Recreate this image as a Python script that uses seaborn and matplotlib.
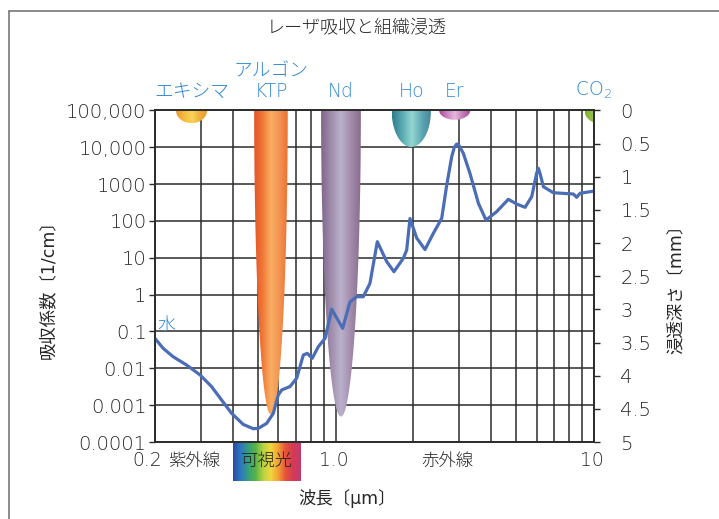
import matplotlib
matplotlib.use("Agg")
import numpy as np
import pandas as pd
import matplotlib.pyplot as plt
import seaborn as sns
from matplotlib.colors import LinearSegmentedColormap
from matplotlib.lines import Line2D
from matplotlib.patches import Polygon
from matplotlib.ticker import FixedLocator, NullLocator, FixedFormatter
from matplotlib.transforms import blended_transform_factory

# Water absorption spectrum (wavelength in um, absorption coefficient in 1/cm)
wavelength_um = [0.200, 0.215, 0.235, 0.265, 0.299, 0.331, 0.362, 0.396, 0.439, 0.480,
                 0.502, 0.541, 0.574, 0.600, 0.619, 0.666, 0.707, 0.750, 0.777, 0.812,
                 0.857, 0.910, 0.966, 1.065, 1.137, 1.207, 1.280, 1.358, 1.450, 1.577,
                 1.682, 1.828, 1.884, 1.940, 2.060, 2.218, 2.388, 2.574, 2.692, 2.814,
                 2.880, 2.942, 3.010, 3.120, 3.310, 3.570, 3.820, 4.200, 4.660, 5.020,
                 5.410, 5.740, 6.000, 6.090, 6.200, 6.370, 6.960, 8.320, 8.570, 8.830,
                 10.0]
absorption_per_cm = [0.065, 0.035, 0.0207, 0.0123, 0.0066, 0.0032, 0.00138, 0.0006, 0.0003, 0.00023,
                     0.000235, 0.00032, 0.0006, 0.0019, 0.0026, 0.0032, 0.0054, 0.023, 0.0255, 0.0187,
                     0.0386, 0.065, 0.40, 0.122, 0.64, 0.88, 0.88, 2.03, 27.4, 7.9,
                     4.2, 9.7, 16.3, 117, 34.5, 16.8, 46, 118, 950, 5570,
                     10000, 12300, 11000, 6900, 1970, 302, 106, 179, 388, 289,
                     235, 457, 2000, 2700, 1800, 853, 586, 540, 440, 565,
                     650]

absorption_ticks = [1e-4, 1e-3, 1e-2, 1e-1, 1, 10, 100, 1000, 1e4, 1e5]
absorption_tick_labels = ["0.0001", "0.001", "0.01", "0.1", "1", "10", "100", "1000", "10,000", "100,000"]
depth_ticks = [0, 0.5, 1, 1.5, 2, 2.5, 3, 3.5, 4, 4.5, 5]
depth_tick_labels = ["0", "0.5", "1", "1.5", "2", "2.5", "3", "3.5", "4", "4.5", "5"]
wavelength_major = [0.2, 1.0, 10]
wavelength_major_labels = ["0.2", "1.0", "10"]
wavelength_minor = [0.3, 0.4, 0.5, 0.6, 0.7, 0.8, 0.9, 2, 3, 4, 5, 6, 7, 8, 9]

# Lasers: centre wavelength, half width (decades of wavelength), penetration depth (mm)
laser_names = ["エキシマ", "アルゴン\nKTP", "Nd", "Ho", "Er", "CO$_2$"]
laser_center_um = [0.277, 0.562, 1.049, 1.963, 2.89, 10.6]
laser_halfwidth_dec = [0.060, 0.065, 0.077, 0.076, 0.060, 0.062]
laser_depth_mm = [0.19, 4.59, 4.62, 0.55, 0.14, 0.20]

# Spectral regions along the wavelength axis
region_names = ["紫外線", "可視光", "赤外線"]
region_edges_um = [0.2, 0.4, 0.73, 10]

# ---- styles ----
TEXT = "#262626"
LABEL_BLUE = "#3389d2"
GRID = "#2b2b2b"
CURVE = "#4a6db6"
laser_colors = [
    ["#ee962c", "#f5bb40", "#f9d458", "#f3ad3c", "#ee962c"],
    ["#e4552a", "#ef7736", "#f8ae62", "#f39452", "#ec7232"],
    ["#80658a", "#9f8cab", "#bab1cd", "#a28cab", "#8a6c8e"],
    ["#2c7c8c", "#58a9b0", "#94d7d3", "#5ea6b3", "#44849a"],
    ["#a64896", "#cc82c0", "#e6b8de", "#c478b6", "#a44a94"],
    ["#7fae36", "#9cc54a", "#b4d668", "#9cc54a", "#86b43a"],
]
spectrum_colors = ["#2b4aa2", "#2d76c0", "#36a07e", "#58b445", "#b9d341",
                   "#f0d63c", "#f3a036", "#e5503a", "#d43a58", "#c13a6f"]

sns.set_theme(style="ticks")
plt.rcParams["font.family"] = ["DejaVu Sans", "Noto Sans CJK JP"]
plt.rcParams["font.weight"] = "light"
plt.rcParams["mathtext.fontset"] = "dejavusans"

W, H = 719, 519
fig = plt.figure(figsize=(W / 100, H / 100), dpi=100)
ax = fig.add_axes([155 / W, 1 - 442 / H, 439 / W, 331.5 / H])
ax.set_xscale("log")
ax.set_yscale("log")
ax.set_xlim(0.2, 10)
ax.set_ylim(1e-4, 1e5)
ax.set_autoscale_on(False)
ax.set_axisbelow(True)

ax2 = ax.twinx()
ax2.set_ylim(5, 0)
ax2.set_autoscale_on(False)

# grid: every wavelength step, every decade of absorption
ax.xaxis.set_major_locator(FixedLocator(wavelength_major))
ax.xaxis.set_minor_locator(FixedLocator(wavelength_minor))
ax.xaxis.set_major_formatter(FixedFormatter([""] * len(wavelength_major)))
ax.xaxis.set_minor_formatter(FixedFormatter([""] * len(wavelength_minor)))
ax.yaxis.set_major_locator(FixedLocator(absorption_ticks))
ax.yaxis.set_major_formatter(FixedFormatter(absorption_tick_labels))
ax.yaxis.set_minor_locator(NullLocator())
ax.grid(True, which="both", axis="x", color=GRID, lw=1.1)
ax.grid(True, which="major", axis="y", color=GRID, lw=1.1)
ax.tick_params(axis="x", which="both", length=0)
ax.tick_params(axis="y", which="major", direction="out", length=4, width=1.0,
               color=GRID, pad=2, labelsize=14, labelcolor=TEXT)
for sp in ax.spines.values():
    sp.set_color(GRID)
    sp.set_linewidth(1.2)
    sp.set_visible(True)

ax2.yaxis.set_major_locator(FixedLocator(depth_ticks))
ax2.yaxis.set_major_formatter(FixedFormatter(depth_tick_labels))
ax2.tick_params(axis="y", direction="out", length=4, width=1.0, color=GRID,
                pad=15, labelsize=14, labelcolor=TEXT)
for sp in ax2.spines.values():
    sp.set_color(GRID)
    sp.set_linewidth(1.2)

# laser bands: half ellipses hanging from the surface down to their penetration depth
to_axes = ax2.transData + ax.transAxes.inverted()
grad = np.linspace(0, 1, 256)[None, :]
t = np.linspace(0, 1, 200)
for name, c, hw, d, cols in zip(laser_names, laser_center_um, laser_halfwidth_dec,
                                laser_depth_mm, laser_colors):
    lc = np.log10(c)
    half = hw * np.sqrt(np.clip(1 - t ** 2, 0, None))
    xs = np.concatenate([10 ** (lc - half), (10 ** (lc + half))[::-1]])
    ys = np.concatenate([d * t, (d * t)[::-1]])
    shape = Polygon(np.column_stack([xs, ys]), closed=True, transform=ax2.transData)
    (x0, y0), (x1, y1) = to_axes.transform([(10 ** (lc - hw), d), (10 ** (lc + hw), 0)])
    im = ax.imshow(grad, cmap=LinearSegmentedColormap.from_list(name, cols),
                   extent=[x0, x1, y0, y1], transform=ax.transAxes, aspect="auto",
                   interpolation="bilinear", zorder=1)
    im.set_clip_path(shape)
    lx = min(c, ax.get_xlim()[1])
    ax.text(lx, 1.028, name, transform=blended_transform_factory(ax.transData, ax.transAxes),
            ha="center", va="bottom", color=LABEL_BLUE, fontsize=13.5, linespacing=1.15)

# water absorption curve
df = pd.DataFrame({"wavelength": wavelength_um, "absorption": absorption_per_cm})
sns.lineplot(data=df, x="wavelength", y="absorption", ax=ax, color=CURVE, linewidth=2.3,
             zorder=3, solid_joinstyle="round", solid_capstyle="round")
ax.annotate("水", xy=(wavelength_um[0], absorption_per_cm[0]), xytext=(8.5, 10),
            textcoords="offset points", ha="center", va="center", color=LABEL_BLUE,
            fontsize=13)

# wavelength labels and spectral regions under the axis
xblend = blended_transform_factory(ax.transData, ax.transAxes)
label_y = -0.056
for i, (wl, lab) in enumerate(zip(wavelength_major, wavelength_major_labels)):
    dx = -5.4 if i == 0 else -1.5
    ax.annotate(lab, xy=(wl, label_y), xycoords=xblend, xytext=(dx, 0),
                textcoords="offset points", ha="center", va="center",
                fontsize=13.5, color=TEXT, annotation_clip=False)

vis0, vis1 = region_edges_um[1], region_edges_um[2]
(bx0, _), (bx1, _) = (ax.transData + ax.transAxes.inverted()).transform([(vis0, 1), (vis1, 1)])
spec = ax.imshow(grad, cmap=LinearSegmentedColormap.from_list("spectrum", spectrum_colors),
                 extent=[bx0, bx1, -0.1176, -0.003], transform=ax.transAxes,
                 aspect="auto", interpolation="bilinear", zorder=1)
spec.set_clip_on(False)

for k, name in enumerate(region_names):
    lo, hi = region_edges_um[k], region_edges_um[k + 1]
    ax.text(np.sqrt(lo * hi), label_y, name, transform=xblend, ha="center", va="center",
            fontsize=12.5, color="#1e1e1e" if k == 1 else TEXT, clip_on=False)

ax.set_xlim(0.2, 10)
ax.set_ylim(1e-4, 1e5)

# axis titles
ax.set_xlabel("波長〔µm〕", fontsize=12.5, color=TEXT)
ax.xaxis.set_label_coords((346.7 - 155) / 439, (442 - 499) / 331.5)
ax.xaxis.label.set_va("center")
ax.set_ylabel("吸収係数〔1/cm〕", fontsize=12.5, color=TEXT)
ax.yaxis.set_label_coords((48 - 155) / 439, (442 - 285) / 331.5)
ax.yaxis.label.set(va="center", ha="center")
ax2.set_ylabel("浸透深さ〔mm〕", fontsize=12.5, color=TEXT, rotation=90)
ax2.yaxis.set_label_coords((677 - 155) / 439, (442 - 285) / 331.5)
ax2.yaxis.label.set(va="center", ha="center")

fig.text(357 / W, 1 - 28 / H, "レーザ吸収と組織浸透", ha="center", va="center",
         fontsize=13, color=TEXT)

# outer frame
fx, fy = 8.5 / W, 1 - 10.7 / H
fig.add_artist(Line2D([fx, fx], [0, fy], transform=fig.transFigure, color="#6b6b6b", lw=1.1))
fig.add_artist(Line2D([fx, 1], [fy, fy], transform=fig.transFigure, color="#6b6b6b", lw=1.1))

fig.savefig("out.png", dpi=100)
